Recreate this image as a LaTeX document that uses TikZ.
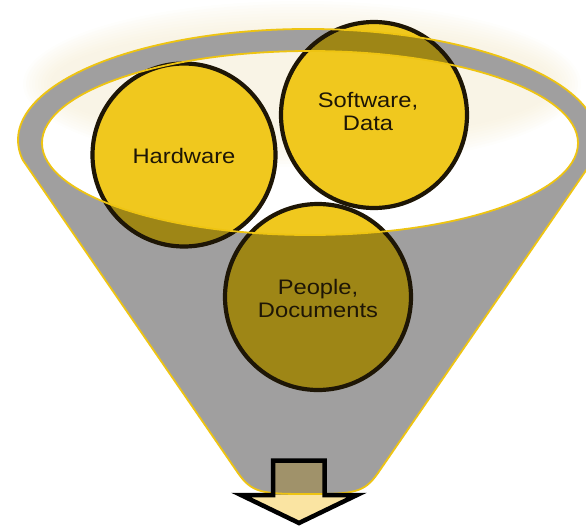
\documentclass[tikz,border=0pt]{standalone}
\usepackage{fontspec}
\setmainfont{Liberation Sans}
\usepackage{graphicx}

\definecolor{gold}{RGB}{240,200,30}
\definecolor{olivegold}{RGB}{158,134,22}
\definecolor{funnelgray}{RGB}{160,159,159}
\definecolor{hazecream}{RGB}{244,234,206}
\definecolor{inkbrown}{RGB}{30,22,6}
\definecolor{rimline}{RGB}{238,196,18}
\definecolor{arrowcream}{RGB}{250,228,162}
\definecolor{arrowshade}{RGB}{160,146,106}

% stretch labels a little horizontally
\newcommand\widetext[1]{\scalebox{1.13}[1]{#1}}

\tikzset{
  funnelpath/.style={insert path={
    (593.2,160) arc[start angle=10.4, end angle=-190.4, x radius=290, y radius=111]
    -- (238,473) .. controls (252,493) and (262,494) .. (308,494)
    .. controls (354,494) and (364,493) .. (378,473) -- cycle}},
  holepath/.style={insert path={(310,143) ellipse[x radius=268, y radius=92]}},
  discs/.style={insert path={
    (hwc) circle[radius=91.5] (swc) circle[radius=93] (ppc) circle[radius=93]}},
  rim/.style={draw=rimline, line width=1.8pt},
  ring/.style={draw=inkbrown, line width=4.2pt},
  caption/.style={font=\fontsize{21}{23}\selectfont, text=inkbrown, align=center, inner sep=0pt},
}

\begin{document}
\begin{tikzpicture}[x=1pt, y=-1pt]
  \useasboundingbox (0,0) rectangle (586,528);
  \clip (0,0) rectangle (586,528);

  % circle centres
  \coordinate (hwc) at (184,155);
  \coordinate (swc) at (374,115);
  \coordinate (ppc) at (318,297);

  % soft cream glow behind the rim
  \foreach \k in {0,...,9}
    \fill[hazecream, opacity=0.07] (302,84) ellipse[x radius=252+3*\k, y radius=56+3*\k];

  % funnel body with the open mouth
  \fill[funnelgray, even odd rule, funnelpath, holepath];

  % the three discs: bright outside the funnel and inside the mouth, dimmed behind the grey
  \fill[gold, discs];
  \begin{scope}
    \clip[funnelpath];
    \fill[olivegold, discs];
  \end{scope}
  \begin{scope}
    \clip[holepath];
    \fill[gold, discs];
  \end{scope}
  \draw[ring] (hwc) circle[radius=91.5];
  \draw[ring] (swc) circle[radius=93];
  \draw[ring] (ppc) circle[radius=93];

  % outlet arrow fills
  \fill[arrowshade] (273,460.5) rectangle (324.5,495);
  \fill[arrowcream] (241,495) -- (357,495) -- (299,523) -- cycle;

  % yellow funnel outlines
  \path[rim, funnelpath];
  \path[rim, holepath];

  % outlet arrow outline
  \draw[draw=black, line width=4.5pt, line join=miter]
    (273,495) -- (273,460.5) -- (324.5,460.5) -- (324.5,495) -- (357,495)
    -- (299,523) -- (241,495) -- cycle;

  % labels
  \node[caption] (hwtext) at (184,156) {\widetext{Hardware}};
  \node[caption] (swtext) at (368,111) {\widetext{Software,}\\\widetext{Data}};
  \node[caption] (pptext) at (318,298) {\widetext{People,}\\\widetext{Documents}};
\end{tikzpicture}
\end{document}
